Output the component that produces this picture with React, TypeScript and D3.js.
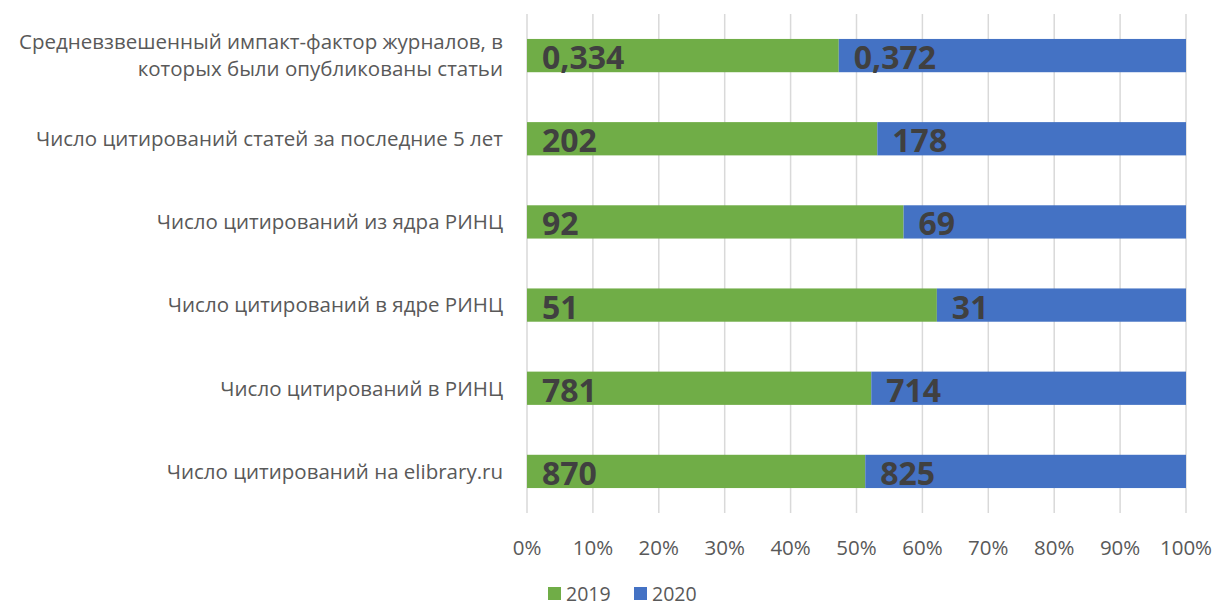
import React from "react";
import * as d3 from "d3";

const categories = [
  ["Средневзвешенный импакт-фактор журналов, в", "которых были опубликованы статьи"],
  ["Число цитирований статей за последние 5 лет"],
  ["Число цитирований из ядра РИНЦ"],
  ["Число цитирований в ядре РИНЦ"],
  ["Число цитирований в РИНЦ"],
  ["Число цитирований на elibrary.ru"],
];
const values2019 = [0.334, 202, 92, 51, 781, 870];
const values2020 = [0.372, 178, 69, 31, 714, 825];
const labels2019 = ["0,334", "202", "92", "51", "781", "870"];
const labels2020 = ["0,372", "178", "69", "31", "714", "825"];
const seriesNames = ["2019", "2020"];
const seriesColors = ["#70AD47", "#4472C4"];
const ticks = [0, 0.1, 0.2, 0.3, 0.4, 0.5, 0.6, 0.7, 0.8, 0.9, 1];

const W = 1216, H = 606;
const left = 527, right = 1186, top = 14, bottom = 513;

export default function App() {
  const x = d3.scaleLinear().domain([0, 1]).range([left, right]);
  const y = d3.scaleBand<number>().domain(d3.range(categories.length)).range([top, bottom]).paddingInner(0.6).paddingOuter(0.3);
  const rows = categories.map((c, i) => {
    const total = values2019[i] + values2020[i];
    const p1 = values2019[i] / total;
    return { c, i, p1 };
  });
  const fmt = d3.format(".0%");
  const font = "'Open Sans', sans-serif";
  return (
    <svg width={W} height={H} style={{ position: "absolute", left: 0, top: 0, background: "#fff" }}>
      {ticks.map((t) => (
        <line key={t} x1={x(t)} x2={x(t)} y1={top} y2={bottom} stroke="#D9D9D9" strokeWidth={1.5} />
      ))}
      {rows.map(({ c, i, p1 }) => {
        const y0 = y(i)!;
        const bh = y.bandwidth();
        const cy = y0 + bh / 2;
        return (
          <g key={i}>
            <rect x={x(0)} y={y0} width={x(p1) - x(0)} height={bh} fill={seriesColors[0]} />
            <rect x={x(p1)} y={y0} width={x(1) - x(p1)} height={bh} fill={seriesColors[1]} />
            <text x={x(0) + 15} y={cy + 2} dy="0.36em" fontFamily={font} fontWeight={700} fontSize={32} fill="#404040">{labels2019[i]}</text>
            <text x={x(p1) + 15} y={cy + 2} dy="0.36em" fontFamily={font} fontWeight={700} fontSize={32} fill="#404040">{labels2020[i]}</text>
            {c.map((line, k) => (
              <text key={k} x={503} y={cy + (k - (c.length - 1) / 2) * 27} dy="0.36em" textAnchor="end" fontFamily={font} fontSize={20.5} fill="#595959">{line}</text>
            ))}
          </g>
        );
      })}
      {ticks.map((t) => (
        <text key={t} x={x(t)} y={548} dy="0.36em" textAnchor="middle" fontFamily={font} fontSize={20.5} fill="#595959">{fmt(t)}</text>
      ))}
      {seriesNames.map((s, k) => (
        <g key={s} transform={`translate(${548 + k * 86},587)`}>
          <rect x={0} y={0} width={13} height={13} fill={seriesColors[k]} />
          <text x={18} y={6.5} dy="0.36em" fontFamily={font} fontSize={19.5} fill="#595959">{s}</text>
        </g>
      ))}
    </svg>
  );
}
